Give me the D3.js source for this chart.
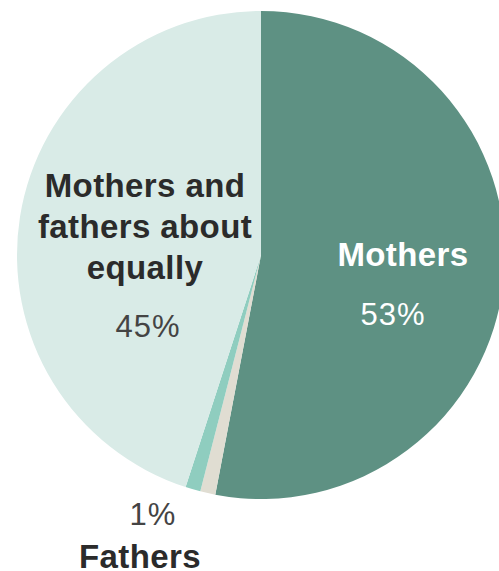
<!DOCTYPE html>
<meta charset="utf-8">
<head>
<script src="https://d3js.org/d3.v7.min.js"></script>
<style>
  body { margin: 0; background: #fff; }
  text { font-family: "Liberation Sans", Arial, sans-serif; }
</style>
</head>
<body>
<div id="chart"></div>
<script>
// slice data, clockwise from 12 o'clock
var labels = ["Mothers", "Neither", "Fathers", "Mothers and fathers about equally"];
var values = [53, 1, 1, 45];
var colors = ["#5e9183", "#e0ddd2", "#8fcdbf", "#d9ebe7"];

var width = 499, height = 571,
    cx = 261, cy = 255, radius = 244;

var svg = d3.select("#chart")
  .append("svg")
    .attr("width", width)
    .attr("height", height);

var g = svg.append("g")
    .attr("transform", "translate(" + cx + "," + cy + ")");

var pie = d3.pie().sort(null).value(function(d) { return d; });
var arc = d3.arc().innerRadius(0).outerRadius(radius);

g.selectAll("path")
  .data(pie(values))
  .enter()
  .append("path")
    .attr("d", arc)
    .style("fill", function(d, i) { return colors[i]; });

// Mothers label
svg.append("text")
    .attr("x", 403).attr("y", 266)
    .style("text-anchor", "middle")
    .style("font-weight", "bold")
    .style("font-size", "33px")
    .style("letter-spacing", "0.4px")
    .style("fill", "#fff")
    .text(labels[0]);
svg.append("text")
    .attr("x", 393).attr("y", 325)
    .style("text-anchor", "middle")
    .style("font-size", "31px")
    .style("letter-spacing", "1px")
    .style("fill", "#fff")
    .text(values[0] + "%");

// equal label
var eq = ["Mothers and", "fathers about", "equally"];
svg.append("text")
    .attr("x", 145).attr("y", 197)
    .style("text-anchor", "middle")
    .style("font-weight", "bold")
    .style("font-size", "33px")
    .style("letter-spacing", "0.4px")
    .style("fill", "#2b2b2b")
  .selectAll("tspan")
  .data(eq)
  .enter()
  .append("tspan")
    .attr("x", 145)
    .attr("dy", function(d, i) { return i === 0 ? 0 : 41; })
    .text(function(d) { return d; });
svg.append("text")
    .attr("x", 148).attr("y", 337)
    .style("text-anchor", "middle")
    .style("font-size", "31px")
    .style("letter-spacing", "1px")
    .style("fill", "#444")
    .text(values[3] + "%");

// Fathers label below
svg.append("text")
    .attr("x", 153).attr("y", 525)
    .style("text-anchor", "middle")
    .style("font-size", "31px")
    .style("letter-spacing", "1px")
    .style("fill", "#444")
    .text(values[2] + "%");
svg.append("text")
    .attr("x", 140).attr("y", 568)
    .style("text-anchor", "middle")
    .style("font-weight", "bold")
    .style("font-size", "33px")
    .style("letter-spacing", "0.4px")
    .style("fill", "#2b2b2b")
    .text(labels[2]);
</script>
</body>
